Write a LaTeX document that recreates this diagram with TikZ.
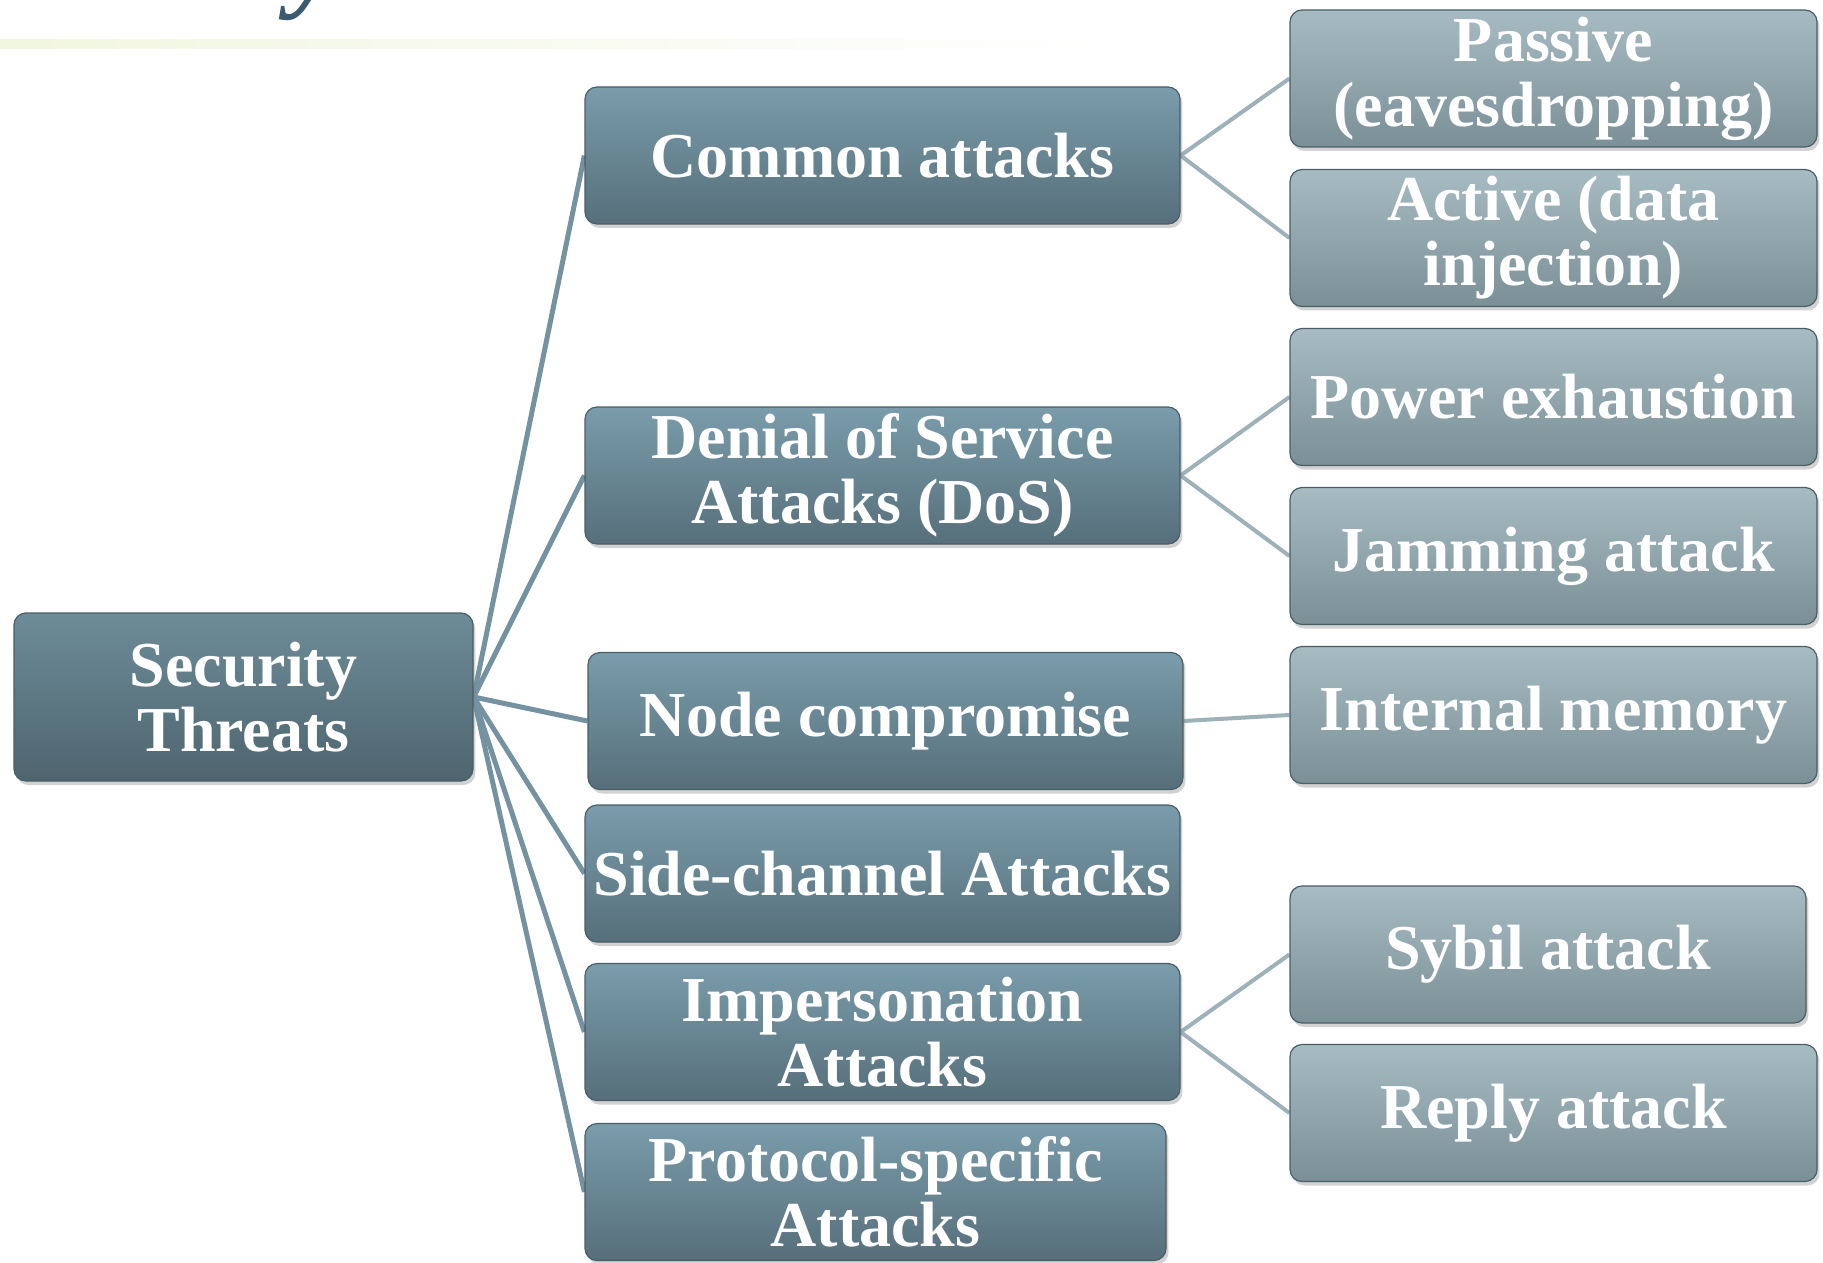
\documentclass[tikz,border=0pt]{standalone}
\usepackage{fontspec}
\setmainfont{Liberation Serif}
\usetikzlibrary{shadows,backgrounds}
\definecolor{midtop}{HTML}{7A9CAB}
\definecolor{midbot}{HTML}{566F7A}
\definecolor{rtop}{HTML}{A7BBC3}
\definecolor{rbot}{HTML}{7B8F97}
\definecolor{sectop}{HTML}{6D8C98}
\definecolor{secbot}{HTML}{4E656F}
\definecolor{boxedge}{HTML}{4A5E67}
\definecolor{fanline}{HTML}{7592A0}
\definecolor{rline}{HTML}{9EB1B9}
\definecolor{titleblue}{HTML}{3B5A70}
\definecolor{gline}{HTML}{F1F6E0}
\begin{document}
\begin{tikzpicture}[x=0.5pt,y=-0.5pt,
  box/.style={rounded corners=6pt, draw=boxedge, line width=0.6pt, inner sep=0pt,
    align=center, text=white, font=\bfseries\fontsize{32}{32.5}\selectfont,
    drop shadow={shadow xshift=1.2pt, shadow yshift=-2pt, opacity=0.35}},
  midbox/.style={box, top color=midtop, bottom color=midbot,
    minimum width=297.5pt, minimum height=68.5pt},
  rbox/.style={box, top color=rtop, bottom color=rbot,
    minimum width=263.5pt, minimum height=68.5pt},
  secbox/.style={box, top color=sectop, bottom color=secbot,
    minimum width=229.5pt, minimum height=84pt},
  fan/.style={draw=fanline, line width=2.5pt},
  rlink/.style={draw=rline, line width=2pt}
]
\useasboundingbox (0,0) rectangle (1823,1262);
\begin{scope}[on background layer]
  \fill[white] (0,0) rectangle (1823,1262);
\end{scope}
\clip (0,0) rectangle (1823,1262);

% partially visible title and decoration
\shade[left color=gline, right color=white] (0,40) rectangle (1100,49);
\node[anchor=base west, inner sep=0pt, text=titleblue,
  font=\bfseries\itshape\fontsize{56}{56}\selectfont] (title) at (-40,-3) {Security Threats};

% nodes
\node[secbox] (sec) at (243.5,697) {Security\\Threats};

\node[midbox] (com)   at (882.5,155.5) {Common attacks};
\node[midbox] (dos)   at (882.5,475.5) {Denial of Service\\Attacks (DoS)};
\node[midbox] (nodec) at (885.5,721)   {Node compromise};
\node[midbox] (side)  at (882.5,873.5) {Side-channel Attacks};
\node[midbox] (imp)   at (882.5,1032)  {Impersonation\\Attacks};
\node[midbox, minimum width=290.5pt] (proto) at (875.5,1192) {Protocol-specific\\Attacks};

\node[rbox] (passive) at (1553.5,78.5) {Passive\\(eavesdropping)};
\node[rbox] (active)  at (1553.5,238)  {Active (data\\injection)};
\node[rbox] (power)   at (1553.5,397)  {Power exhaustion};
\node[rbox] (jam)     at (1553.5,556)  {Jamming attack};
\node[rbox] (intmem)  at (1553.5,715)  {Internal memory};
\node[rbox, minimum width=258pt] (sybil) at (1548,954.5) {Sybil attack};
\node[rbox] (reply)   at (1553.5,1113) {Reply attack};

% connectors
\begin{scope}[on background layer]
  \foreach \t in {com,dos,nodec,side,imp,proto}
    \path[fan] (sec.east) -- (\t.west);
  \path[rlink] (com.east) -- (passive.west);
  \path[rlink] (com.east) -- (active.west);
  \path[rlink] (dos.east) -- (power.west);
  \path[rlink] (dos.east) -- (jam.west);
  \path[rlink] (nodec.east) -- (intmem.west);
  \path[rlink] (imp.east) -- (sybil.west);
  \path[rlink] (imp.east) -- (reply.west);
\end{scope}
\end{tikzpicture}
\end{document}
